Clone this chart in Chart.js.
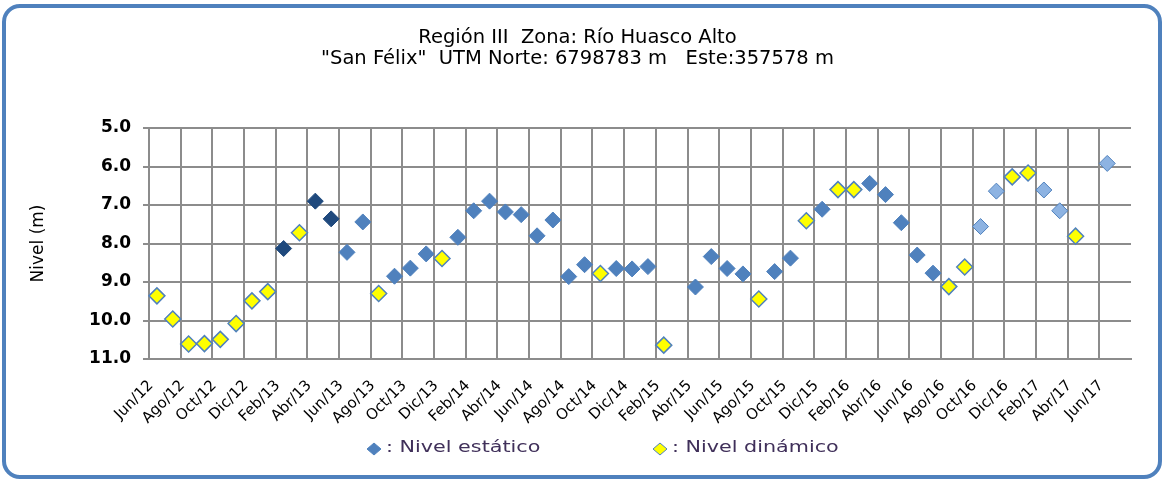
<!DOCTYPE html>
<html>
<head>
<meta charset="utf-8">
<title>Nivel San Félix</title>
<script src="https://cdn.jsdelivr.net/npm/chart.js@4/dist/chart.umd.min.js"></script>
<style>
  html, body { margin: 0; padding: 0; background: #fff; }
  #frame {
    position: absolute; left: 2px; top: 4px;
    width: 1152px; height: 467px;
    border: 4px solid #4f81bd; border-radius: 18px;
  }
  #grafico { position: absolute; left: 0; top: 0; }
</style>
</head>
<body>
<div id="frame"></div>
<canvas id="grafico" width="1163" height="479"></canvas>
<script>
// meses de medición (uno por categoría), Jun/12 .. Jul/17
const meses = [
  "Jun/12","Jul/12","Ago/12","Sep/12","Oct/12","Nov/12","Dic/12",
  "Ene/13","Feb/13","Mar/13","Abr/13","May/13","Jun/13","Jul/13","Ago/13","Sep/13","Oct/13","Nov/13","Dic/13",
  "Ene/14","Feb/14","Mar/14","Abr/14","May/14","Jun/14","Jul/14","Ago/14","Sep/14","Oct/14","Nov/14","Dic/14",
  "Ene/15","Feb/15","Mar/15","Abr/15","May/15","Jun/15","Jul/15","Ago/15","Sep/15","Oct/15","Nov/15","Dic/15",
  "Ene/16","Feb/16","Mar/16","Abr/16","May/16","Jun/16","Jul/16","Ago/16","Sep/16","Oct/16","Nov/16","Dic/16",
  "Ene/17","Feb/17","Mar/17","Abr/17","May/17","Jun/17","Jul/17"
];

// nivel estático (m)
const nivelEstatico = [
  null, null, null, null, null, null, null,
  null, 8.13, null, 6.90, 7.36, 8.23, 7.44, null, 8.85, 8.64, 8.27, null,
  7.84, 7.15, 6.90, 7.18, 7.25, 7.80, 7.39, 8.86, 8.55, null, 8.65, 8.66,
  8.60, null, null, 9.13, 8.34, 8.65, 8.79, null, 8.73, 8.38, null, 7.11,
  null, null, 6.44, 6.73, 7.46, 8.30, 8.77, null, null, 7.56, 6.64, null,
  null, 6.61, 7.15, null, null, 5.92, null
];

// nivel dinámico (m)
const nivelDinamico = [
  9.36, 9.96, 10.61, 10.60, 10.49, 10.08, 9.49,
  9.25, null, 7.72, null, null, null, null, 9.30, null, null, null, 8.39,
  null, null, null, null, null, null, null, null, null, 8.78, null, null,
  null, 10.64, null, null, null, null, null, 9.44, null, null, 7.41, null,
  6.60, 6.60, null, null, null, null, null, 9.12, 8.61, null, null, 6.27,
  6.17, null, null, 7.81, null, null, null
];

const yTicks = [5, 6, 7, 8, 9, 10, 11];

const FONT = "'DejaVu Sans', Verdana, sans-serif";
const GRID = "#8c8c8c";

// tono del rombo estático según el período
function colorEstatico(i) {
  if (i >= 8 && i <= 11) return "#1f497d";
  if (i >= 52) return "#8db3e2";
  return "#4f81bd";
}

// leyenda dibujada a mano bajo las etiquetas del eje X (texto ensanchado)
const leyenda = {
  id: "leyenda",
  afterDraw(chart) {
    const c = chart.ctx;
    const items = [
      { x: 374, label: ": Nivel estático", fill: "#4f81bd", stroke: "#4f81bd" },
      { x: 660, label: ": Nivel dinámico", fill: "#ffff00", stroke: "#4f81bd" }
    ];
    const y = 449;
    const ancho = 1.38;
    c.save();
    items.forEach(it => {
      c.beginPath();
      c.moveTo(it.x, y - 6);
      c.lineTo(it.x + 7, y);
      c.lineTo(it.x, y + 6);
      c.lineTo(it.x - 7, y);
      c.closePath();
      c.fillStyle = it.fill;
      c.fill();
      c.lineWidth = 1;
      c.strokeStyle = it.stroke;
      c.stroke();

      c.save();
      c.translate(it.x + 12, y - 1);
      c.scale(ancho, 1);
      c.font = "15px " + FONT;
      c.fillStyle = "#40305a";
      c.textBaseline = "middle";
      c.textAlign = "left";
      c.fillText(it.label, 0, 0);
      c.restore();
    });
    c.restore();
  }
};

new Chart("grafico", {
  type: "line",
  data: {
    labels: meses,
    datasets: [
      {
        label: "Nivel estático",
        data: nivelEstatico,
        showLine: false,
        pointStyle: "rectRot",
        pointRadius: 8,
        pointBorderWidth: 1,
        pointBackgroundColor: ctx => colorEstatico(ctx.dataIndex),
        pointBorderColor: ctx => ctx.dataIndex >= 52 ? "#4f81bd" : colorEstatico(ctx.dataIndex)
      },
      {
        label: "Nivel dinámico",
        data: nivelDinamico,
        showLine: false,
        pointStyle: "rectRot",
        pointRadius: 8,
        pointBorderWidth: 1.5,
        pointBackgroundColor: "#ffff00",
        pointBorderColor: "#4f81bd"
      }
    ]
  },
  options: {
    responsive: false,
    animation: false,
    layout: { padding: { left: 24, right: 32, top: 0, bottom: 35 } },
    plugins: {
      legend: { display: false },
      tooltip: { enabled: false },
      title: {
        display: true,
        text: ["Región III  Zona: Río Huasco Alto", "\"San Félix\"  UTM Norte: 6798783 m   Este:357578 m"],
        color: "#000",
        font: { family: FONT, size: 19.5, weight: "normal", lineHeight: 21 / 19.5 },
        padding: { top: 27, bottom: 59 }
      }
    },
    scales: {
      x: {
        offset: true,
        grid: {
          offset: true,
          drawTicks: false,
          lineWidth: 2,
          color: ctx => ctx.index % 2 === 0 ? GRID : "rgba(0,0,0,0)"
        },
        border: { color: GRID, width: 2 },
        ticks: {
          autoSkip: false,
          maxRotation: 45,
          minRotation: 45,
          padding: 18,
          labelOffset: -6,
          color: "#000",
          font: { family: FONT, size: 15 },
          callback: function (v, i) { return i % 2 === 0 ? this.getLabelForValue(v) : ""; }
        },
        afterFit: s => { s.height = 85; }
      },
      y: {
        reverse: true,
        min: 5,
        max: 11,
        afterBuildTicks: s => { s.ticks = yTicks.map(v => ({ value: v })); },
        grid: { color: GRID, lineWidth: 2, tickLength: 6 },
        border: { color: GRID, width: 2 },
        ticks: {
          padding: 12,
          color: "#000",
          font: { family: FONT, size: 17, weight: "bold" },
          callback: v => v.toFixed(1)
        },
        title: {
          display: true,
          text: "Nivel (m)",
          color: "#000",
          font: { family: FONT, size: 17 },
          padding: { top: 4, bottom: 0 }
        },
        afterFit: s => { s.width = 125; }
      }
    }
  },
  plugins: [leyenda]
});
</script>
</body>
</html>
